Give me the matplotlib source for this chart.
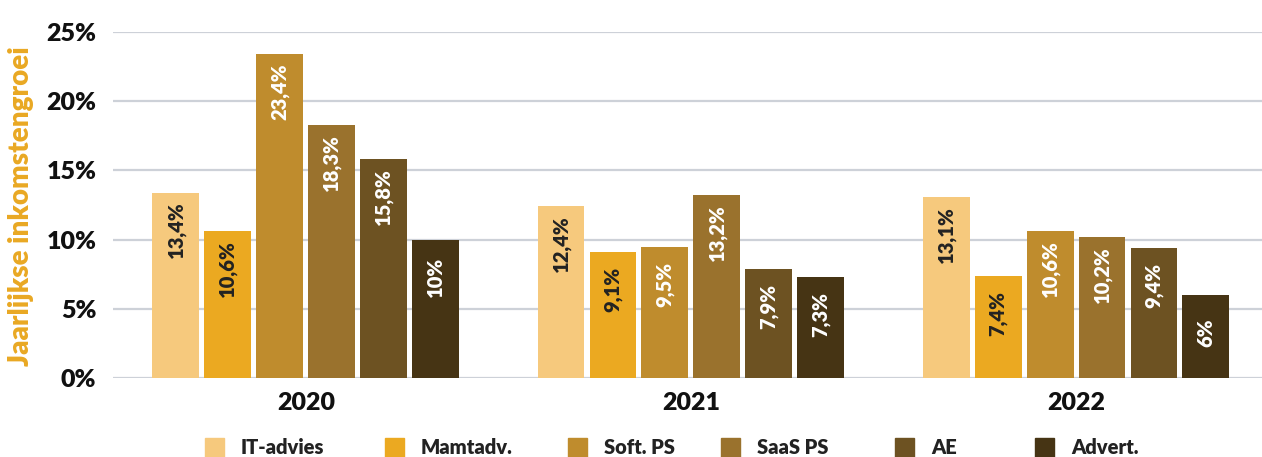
import numpy as np
import matplotlib.pyplot as plt
from matplotlib.patches import Rectangle

# -------------------------------
# Data
# -------------------------------
years = ["2020", "2021", "2022"]
segments = ["IT-advies", "Mamtadv.", "Soft. PS", "SaaS PS", "AE", "Advert."]
it_advies = [13.4, 12.4, 13.1]
mamtadv = [10.6, 9.1, 7.4]
soft_ps = [23.4, 9.5, 10.6]
saas_ps = [18.3, 13.2, 10.2]
ae = [15.8, 7.9, 9.4]
advert = [10.0, 7.3, 6.0]
y_ticks = [0, 5, 10, 15, 20, 25]

series = [it_advies, mamtadv, soft_ps, saas_ps, ae, advert]
colors = ["#F6C97D", "#EBA921", "#BF8C2D", "#9A722D", "#6D5222", "#463414"]
label_colors = ["#222222", "#222222", "white", "white", "white", "white"]

plt.rcParams["font.family"] = ["Lato", "DejaVu Sans"]
W = "heavy"

# -------------------------------
# Plot
# -------------------------------
fig = plt.figure(figsize=(12.62, 4.57), dpi=100)
ax = fig.add_axes([113 / 1262, 1 - 378 / 457, 1 - 113 / 1262, (378 - 32) / 457])

x = np.arange(len(years))
step = 0.135
width = 0.122

for i, (vals, col, lcol) in enumerate(zip(series, colors, label_colors)):
    pos = x + (i - 2.5) * step
    bars = ax.bar(pos, vals, width=width, color=col, zorder=3)
    for b, v in zip(bars, vals):
        txt = f"{v:g}".replace(".", ",") + "%"
        ax.annotate(txt, (b.get_x() + b.get_width() / 2, v),
                    xytext=(0, -27), textcoords="offset points",
                    rotation=90, ha="center", va="center",
                    fontsize=14.5, fontweight=W, color=lcol, zorder=4)

ax.set_xlim(-0.501, 2.483)
ax.set_ylim(0, 25)
ax.set_yticks(y_ticks)
ax.set_yticklabels([f"{t}%" for t in y_ticks], fontsize=18, fontweight=W, color="#111111")
ax.set_xticks(x)
ax.set_xticklabels(years, fontsize=18, fontweight=W, color="#111111")
ax.tick_params(axis="both", length=0)
ax.tick_params(axis="y", pad=12)
ax.tick_params(axis="x", pad=10)
ax.grid(axis="y", color="#CDD1D8", linewidth=1.6, zorder=0)
for s in ax.spines.values():
    s.set_visible(False)

fig.text(21 / 1262, 1 - 206 / 457, "Jaarlijkse inkomstengroei", rotation=90,
         ha="center", va="center", fontsize=20, fontweight=W, color="#E9A823")

# -------------------------------
# Legend (fixed positions near the bottom edge)
# -------------------------------
square_x = [205, 385, 568, 721, 895, 1035]
for sx, name, col in zip(square_x, segments, colors):
    fig.add_artist(Rectangle((sx / 1262, 1 - 457 / 457), 19 / 1262, 19 / 457,
                             transform=fig.transFigure, color=col))
    fig.text((sx + 36) / 1262, 1 - 438 / 457, name, ha="left", va="top",
             fontsize=14.5, fontweight=W, color="#222222")

fig.savefig("out.png", dpi=100)
